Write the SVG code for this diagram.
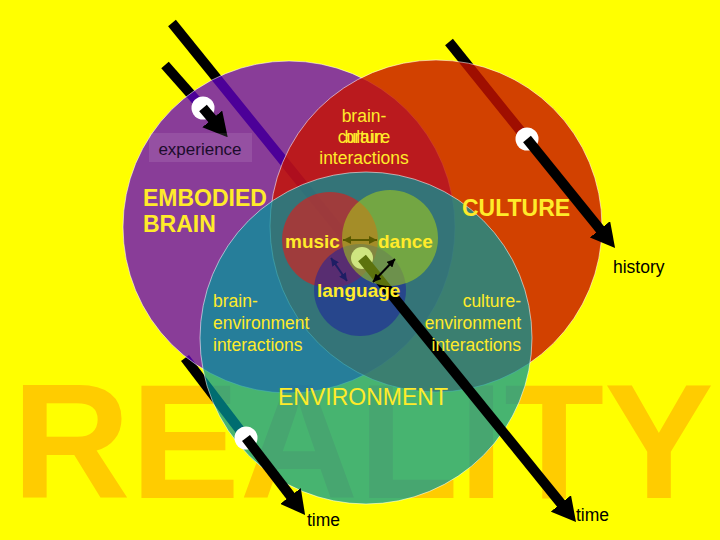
<svg xmlns="http://www.w3.org/2000/svg" width="720" height="540" viewBox="0 0 720 540">
<style>
.lbl{font-family:"Liberation Sans",Arial,sans-serif;fill:#FFEB2A}
.dark{font-family:"Liberation Sans",Arial,sans-serif;fill:#000}
.big{stroke:#fff;stroke-opacity:0.55;stroke-width:1}
.arrow{stroke:#000;stroke-width:10;fill:none}
.hole{fill:#fff}
</style>
<defs>
<marker id="head" markerUnits="userSpaceOnUse" viewBox="0 0 24 26" markerWidth="24" markerHeight="26" refX="4" refY="13" orient="auto">
<path d="M0,0 L24,13 L0,26 z" fill="#000"/>
</marker>
<marker id="smOlive" markerUnits="userSpaceOnUse" viewBox="0 0 8 8" markerWidth="8" markerHeight="8" refX="8" refY="4" orient="auto-start-reverse">
<path d="M0,0 L8,4 L0,8 z" fill="#5a5a00"/>
</marker>
<marker id="smNavy" markerUnits="userSpaceOnUse" viewBox="0 0 8 8" markerWidth="8" markerHeight="8" refX="8" refY="4" orient="auto-start-reverse">
<path d="M0,0 L8,4 L0,8 z" fill="#1e1e64"/>
</marker>
<marker id="smBlack" markerUnits="userSpaceOnUse" viewBox="0 0 8 8" markerWidth="8" markerHeight="8" refX="8" refY="4" orient="auto-start-reverse">
<path d="M0,0 L8,4 L0,8 z" fill="#000"/>
</marker>
</defs>
<rect width="720" height="540" fill="#FFFF00"/>
<text x="12" y="498" font-family="'Liberation Sans',Arial,sans-serif" font-weight="bold" font-size="164" fill="#FFCC00">REALITY</text>

<g id="connectors-under">
<line class="arrow" x1="165" y1="65" x2="203" y2="108"/>
<line class="arrow" x1="172" y1="23" x2="362" y2="258"/>
<line class="arrow" x1="449" y1="42" x2="527" y2="139"/>
<line class="arrow" x1="185" y1="358" x2="246" y2="438"/>
</g>

<g id="brain"><circle class="big" cx="289" cy="227" r="166" fill="#6400C8" fill-opacity="0.76"/></g>
<g id="culture"><circle class="big" cx="436" cy="226" r="166" fill="#C71100" fill-opacity="0.8"/></g>
<g id="environment"><circle class="big" cx="366" cy="338" r="166" fill="#00979B" fill-opacity="0.72"/></g>

<g id="connectors">
<circle class="hole" cx="203" cy="108" r="11.5"/>
<line class="arrow" x1="203" y1="108" x2="214.8" y2="122" marker-end="url(#head)"/>
<circle class="hole" cx="527" cy="139" r="11.5"/>
<line class="arrow" x1="527" y1="139" x2="602.5" y2="232.4" marker-end="url(#head)"/>
<circle class="hole" cx="246" cy="438" r="11.5"/>
<line class="arrow" x1="246" y1="438" x2="292.9" y2="499.1" marker-end="url(#head)"/>
</g>

<g id="music"><circle cx="330" cy="240" r="48" fill="#F80E0B" fill-opacity="0.55"/></g>
<g id="language"><circle cx="360" cy="290" r="46" fill="#1E209C" fill-opacity="0.55"/></g>
<g id="time-arrow">
<circle class="hole" cx="362" cy="258" r="11"/>
<line class="arrow" x1="362" y1="258" x2="563.4" y2="506.5" marker-end="url(#head)"/>
</g>
<g id="dance"><circle cx="390" cy="238" r="48" fill="#A8D018" fill-opacity="0.55"/></g>

<g id="links">
<line x1="343" y1="240" x2="377" y2="240" stroke="#5a5a00" stroke-width="2" marker-start="url(#smOlive)" marker-end="url(#smOlive)"/>
<line x1="331" y1="258" x2="347" y2="281" stroke="#1e1e64" stroke-width="2" marker-start="url(#smNavy)" marker-end="url(#smNavy)"/>
<line x1="395" y1="259" x2="373" y2="282" stroke="#000" stroke-width="2" marker-start="url(#smBlack)" marker-end="url(#smBlack)"/>
</g>

<g id="experience-label">
<rect x="149" y="133" width="103" height="29" fill="#fff" fill-opacity="0.1"/>
<text x="200" y="155" font-family="'Liberation Sans',Arial,sans-serif" font-size="17" text-anchor="middle" fill="#1c0c2c">experience</text>
</g>
<g id="brain-culture-label" font-size="17.5" text-anchor="middle">
<text class="lbl" x="364" y="122">brain-</text>
<text class="lbl" x="364" y="143">culture</text>
<text class="lbl" x="364" y="143">brain</text>
<text class="lbl" x="364" y="164">interactions</text>
</g>
<g id="brain-label" font-size="23" font-weight="bold">
<text class="lbl" x="143" y="206">EMBODIED</text>
<text class="lbl" x="143" y="232">BRAIN</text>
</g>
<g id="culture-label"><text class="lbl" x="462" y="216" font-size="23" font-weight="bold">CULTURE</text></g>
<g id="small-labels" font-size="19" font-weight="bold">
<text class="lbl" x="285" y="248">music</text>
<text class="lbl" x="378" y="248">dance</text>
<text class="lbl" x="317" y="297">language</text>
</g>
<g id="brain-env-label" font-size="17.5">
<text class="lbl" x="213" y="307">brain-</text>
<text class="lbl" x="213" y="329">environment</text>
<text class="lbl" x="213" y="351">interactions</text>
</g>
<g id="culture-env-label" font-size="17.5" text-anchor="end">
<text class="lbl" x="521" y="307">culture-</text>
<text class="lbl" x="521" y="329">environment</text>
<text class="lbl" x="521" y="351">interactions</text>
</g>
<g id="environment-label"><text class="lbl" x="363" y="405" font-size="23" text-anchor="middle">ENVIRONMENT</text></g>
<g id="axis-labels" font-size="17.5">
<text class="dark" x="613" y="273">history</text>
<text class="dark" x="307" y="526">time</text>
<text class="dark" x="576" y="521">time</text>
</g>
</svg>
